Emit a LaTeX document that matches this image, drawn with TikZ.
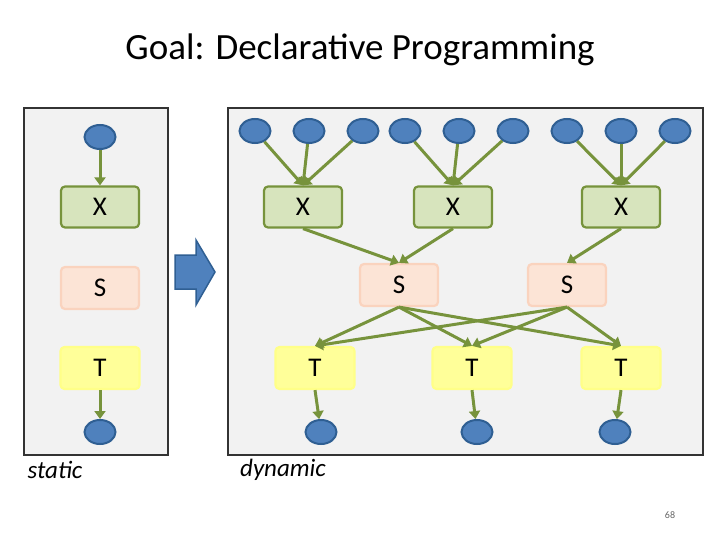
\documentclass[tikz,border=0pt]{standalone}
\usepackage{fontspec}
\setmainfont{Carlito}
\usetikzlibrary{arrows.meta,shapes.geometric}
\definecolor{cb}{HTML}{4F81BD}\definecolor{cbd}{HTML}{2F5F93}
\definecolor{gr}{HTML}{77933C}
\definecolor{xfill}{HTML}{D7E4BD}\definecolor{sdraw}{HTML}{FAD3BE}\definecolor{sfill}{HTML}{FCE4D6}
\definecolor{tdraw}{HTML}{FFFF88}\definecolor{tfill}{HTML}{FFFF99}
\begin{document}
\begin{tikzpicture}[x=1pt,y=-1pt,
 dot/.style={ellipse,draw=cbd,fill=cb,line width=2pt,minimum width=31pt,minimum height=24pt,inner sep=0},
 lab/.style={font=\fontsize{27}{27}\selectfont},
 xb/.style={lab,draw=gr,fill=xfill,rounded corners=4pt,line width=2.2pt,minimum width=78pt,minimum height=41pt},
 sb/.style={lab,draw=sdraw,fill=sfill,rounded corners=4pt,line width=2.2pt,minimum width=78pt,minimum height=42pt},
 tb/.style={lab,draw=tdraw,fill=tfill,rounded corners=4pt,line width=2.2pt,minimum width=79pt,minimum height=42pt},
 ar/.style={draw=gr,line width=3pt,-{Triangle[length=8pt,width=11pt]}},
 panel/.style={draw=black!80,fill=black!5,line width=2.5pt}]
\useasboundingbox (0,0) rectangle (720,540);
\fill[white] (0,0) rectangle (720,540);
\node (title) at (360,50) {\fontsize{37}{37}\selectfont Goal: Declarative Programming};
\path[panel] (24,108) rectangle (168,455);
\path[panel] (228,108) rectangle (703,455);
% left
\node[dot] (lc) at (100,137) {};
\node[xb] (lx) at (100,207) {X};
\node[sb] (ls) at (100,288) {S};
\node[tb] (lt) at (100,368) {T};
\node[dot] (lb) at (100,432) {};
\draw[ar] (lc) -- (lx);
\draw[ar] (lt) -- (lb);
\node (st) at (55,470) {\fontsize{25}{25}\selectfont\itshape static};
\node (dy) at (283,470) {\fontsize{25}{25}\selectfont\itshape dynamic};
\draw[cbd,fill=cb,line width=1.5pt] (175,255) -- (196,255) -- (196,240) -- (215,272) -- (196,305) -- (196,289) -- (175,289) -- cycle;
% right
\foreach \i/\x in {1/255,2/309,3/363,4/405,5/459,6/513,7/567,8/621,9/675}
  \node[dot] (c\i) at (\x,131) {};
\node[xb] (x1) at (303,207) {X};
\node[xb] (x2) at (453,207) {X};
\node[xb] (x3) at (621,207) {X};
\node[sb] (s1) at (399,285) {S};
\node[sb] (s2) at (567,285) {S};
\node[tb] (t1) at (315,368) {T};
\node[tb] (t2) at (472,368) {T};
\node[tb] (t3) at (621,368) {T};
\node[dot] (b1) at (321,432) {};
\node[dot] (b2) at (477,432) {};
\node[dot] (b3) at (615,432) {};
\foreach \c/\x in {1/1,2/1,3/1,4/2,5/2,6/2,7/3,8/3,9/3}
  \draw[ar] (c\c) -- (x\x.north);
\draw[ar] (x1.south) -- (s1.north);
\draw[ar] (x2.south) -- (s1.north);
\draw[ar] (x3.south) -- (s2.north);
\foreach \s in {1,2}\foreach \t in {1,2,3}
  \draw[ar] (s\s.south) -- (t\t.north);
\draw[ar] (t1.south) -- (b1);
\draw[ar] (t2.south) -- (b2);
\draw[ar] (t3.south) -- (b3);
\node[text=black!60] (pg) at (670,515) {\fontsize{10}{10}\selectfont 68};
\end{tikzpicture}
\end{document}
